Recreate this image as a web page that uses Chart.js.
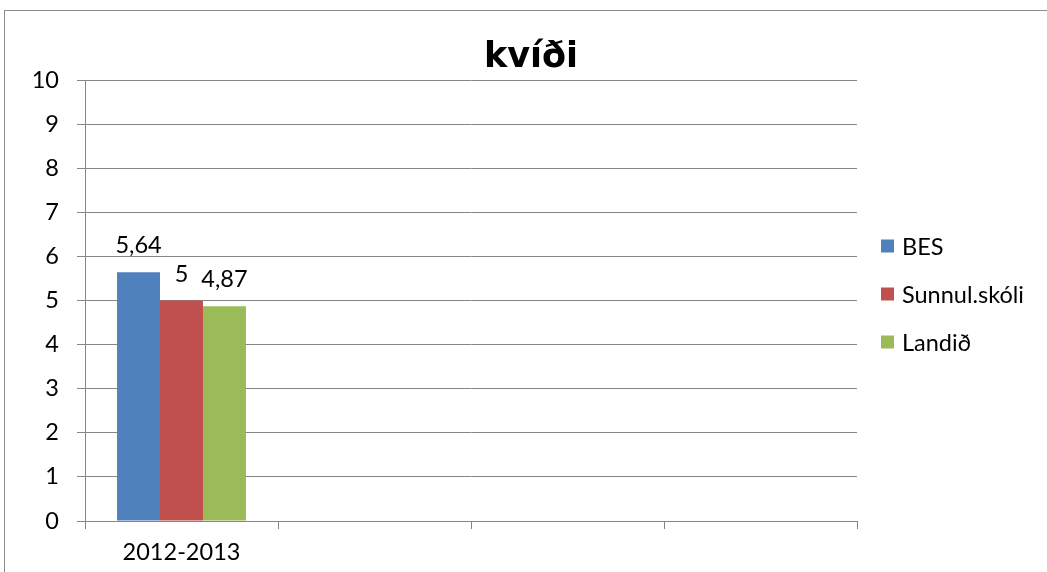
<!DOCTYPE html>
<html>
<head>
<meta charset="utf-8">
<script src="https://cdn.jsdelivr.net/npm/chart.js@4.4.1/dist/chart.umd.min.js"></script>
<style>
html,body{margin:0;padding:0;background:#fff;}
#wrap{position:relative;width:1047px;height:572px;overflow:hidden;}
#frame{position:absolute;left:4px;top:10px;width:1100px;height:700px;border:1px solid #8c8c8c;box-sizing:border-box;}
canvas{position:absolute;left:0;top:0;}
</style>
</head>
<body>
<div id="wrap"><div id="frame"></div><canvas id="c" width="1047" height="572"></canvas></div>
<script>
const chartTitle = 'kvíði';
const categories = ['2012-2013', '', '', ''];
const seriesNames = ['BES', 'Sunnul.skóli', 'Landið'];
const besValues = [5.64, null, null, null];
const sunnulValues = [5, null, null, null];
const landidValues = [4.87, null, null, null];
const yTicks = [0,1,2,3,4,5,6,7,8,9,10];
const colors = ['#4F81BD', '#C0504D', '#9BBB59'];

const FONT = 'Lato, "Open Sans", sans-serif';
const FSIZE = 23.5;
Chart.defaults.font.family = FONT;
Chart.defaults.color = '#000';

const titlePlugin = {
  id: 'titleDraw',
  afterDraw(chart) {
    const ctx = chart.ctx;
    ctx.save();
    ctx.font = 'bold 35px "DejaVu Sans", sans-serif';
    ctx.fillStyle = '#000';
    ctx.textAlign = 'center';
    ctx.textBaseline = 'alphabetic';
    ctx.fillText(chartTitle, 531, 67);
    ctx.restore();
  }
};

const legendPlugin = {
  id: 'legendDraw',
  afterDraw(chart) {
    const ctx = chart.ctx;
    ctx.save();
    ctx.font = FSIZE + 'px ' + FONT;
    ctx.textBaseline = 'middle';
    ctx.textAlign = 'left';
    const area = chart.chartArea;
    const cy = (area.top + area.bottom) / 2 - 6;
    const n = chart.data.datasets.length;
    chart.data.datasets.forEach((ds, i) => {
      const y = cy + (i - (n - 1) / 2) * 48;
      ctx.fillStyle = ds.backgroundColor;
      ctx.fillRect(881, y - 7, 13, 13);
      ctx.fillStyle = '#000';
      ctx.fillText(ds.label, 902, y + 1);
    });
    ctx.restore();
  }
};

const labelPlugin = {
  id: 'valueLabels',
  afterDatasetsDraw(chart) {
    const ctx = chart.ctx;
    ctx.save();
    ctx.font = FSIZE + 'px ' + FONT;
    ctx.fillStyle = '#000';
    ctx.textAlign = 'center';
    ctx.textBaseline = 'alphabetic';
    chart.data.datasets.forEach((ds, di) => {
      const meta = chart.getDatasetMeta(di);
      meta.data.forEach((bar, i) => {
        const v = ds.data[i];
        if (v === null || v === undefined) return;
        ctx.fillText(String(v).replace('.', ','), bar.x, bar.y - 19);
      });
    });
    ctx.restore();
  }
};

new Chart(document.getElementById('c'), {
  type: 'bar',
  data: {
    labels: categories,
    datasets: [
      { label: seriesNames[0], data: besValues, backgroundColor: colors[0] },
      { label: seriesNames[1], data: sunnulValues, backgroundColor: colors[1] },
      { label: seriesNames[2], data: landidValues, backgroundColor: colors[2] }
    ]
  },
  options: {
    responsive: false,
    animation: false,
    devicePixelRatio: 1,
    layout: { padding: { top: 80, right: 190, left: 0, bottom: 0 } },
    datasets: { bar: { barPercentage: 1, categoryPercentage: 0.668 } },
    plugins: { legend: { display: false }, title: { display: false }, tooltip: { enabled: false } },
    scales: {
      x: {
        offset: true,
        grid: { offset: true, drawOnChartArea: false, drawTicks: true, tickLength: 8, color: '#868686', lineWidth: 1 },
        border: { color: '#868686', width: 1 },
        ticks: { font: { size: FSIZE }, padding: 9, maxRotation: 0, autoSkip: false },
        afterFit(scale) { scale.height = 51; }
      },
      y: {
        min: 0, max: 10,
        afterBuildTicks(scale) { scale.ticks = yTicks.map(v => ({ value: v })); },
        grid: { color: '#868686', lineWidth: 1, tickLength: 8 },
        border: { color: '#868686', width: 1 },
        ticks: { font: { size: FSIZE }, padding: 18 },
        afterFit(scale) { scale.width = 85; }
      }
    }
  },
  plugins: [labelPlugin, titlePlugin, legendPlugin]
});
</script>
</body>
</html>
